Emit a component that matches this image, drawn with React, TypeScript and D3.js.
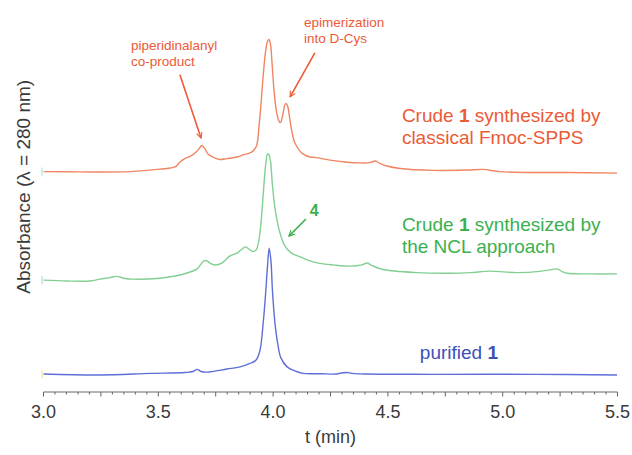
import React from "react";
import * as d3 from "d3";

// Retention time (min) and absorbance (AU, stacked traces as displayed)
const fmocTime = [3.0, 3.159, 3.377, 3.507, 3.573, 3.595, 3.621, 3.638, 3.66, 3.677, 3.69, 3.703, 3.716, 3.738, 3.769, 3.799, 3.843, 3.869, 3.891, 3.912, 3.928, 3.939, 3.947, 3.956, 3.967, 3.976, 3.982, 3.989, 3.995, 4.004, 4.015, 4.026, 4.032, 4.041, 4.05, 4.056, 4.063, 4.071, 4.082, 4.095, 4.117, 4.13, 4.161, 4.191, 4.248, 4.313, 4.378, 4.422, 4.444, 4.461, 4.496, 4.553, 4.696, 4.845, 4.914, 4.988, 5.132, 5.28, 5.498];
const fmocAbs = [0.711, 0.71, 0.711, 0.719, 0.726, 0.742, 0.755, 0.76, 0.771, 0.784, 0.795, 0.784, 0.768, 0.758, 0.75, 0.753, 0.758, 0.765, 0.769, 0.777, 0.794, 0.861, 0.926, 1.013, 1.097, 1.132, 1.137, 1.119, 1.065, 0.974, 0.903, 0.874, 0.869, 0.89, 0.923, 0.931, 0.923, 0.89, 0.839, 0.803, 0.777, 0.768, 0.758, 0.756, 0.748, 0.742, 0.739, 0.74, 0.745, 0.739, 0.729, 0.721, 0.715, 0.716, 0.718, 0.711, 0.708, 0.708, 0.706];

const nclTime = [3.0, 3.102, 3.203, 3.246, 3.29, 3.32, 3.355, 3.39, 3.507, 3.573, 3.625, 3.669, 3.695, 3.708, 3.725, 3.743, 3.777, 3.812, 3.843, 3.86, 3.88, 3.895, 3.912, 3.926, 3.936, 3.945, 3.952, 3.96, 3.969, 3.976, 3.982, 3.989, 3.997, 4.008, 4.021, 4.034, 4.047, 4.065, 4.087, 4.104, 4.13, 4.161, 4.204, 4.261, 4.335, 4.387, 4.409, 4.431, 4.479, 4.627, 4.77, 4.858, 4.945, 5.062, 5.162, 5.206, 5.236, 5.263, 5.28, 5.38, 5.498];
const nclAbs = [0.361, 0.358, 0.358, 0.364, 0.369, 0.373, 0.366, 0.364, 0.367, 0.374, 0.384, 0.397, 0.421, 0.424, 0.416, 0.41, 0.416, 0.439, 0.448, 0.458, 0.468, 0.461, 0.453, 0.458, 0.481, 0.529, 0.587, 0.668, 0.742, 0.769, 0.765, 0.742, 0.668, 0.594, 0.539, 0.503, 0.477, 0.458, 0.445, 0.44, 0.432, 0.423, 0.415, 0.41, 0.406, 0.41, 0.416, 0.408, 0.395, 0.385, 0.383, 0.385, 0.39, 0.385, 0.389, 0.394, 0.397, 0.387, 0.383, 0.381, 0.381];

const pureTime = [3.0, 3.246, 3.464, 3.616, 3.651, 3.669, 3.686, 3.712, 3.799, 3.856, 3.899, 3.926, 3.943, 3.956, 3.967, 3.976, 3.983, 3.991, 3.997, 4.008, 4.021, 4.034, 4.061, 4.095, 4.13, 4.204, 4.274, 4.304, 4.322, 4.344, 4.409, 4.696, 5.132, 5.498];
const pureAbs = [0.058, 0.055, 0.06, 0.063, 0.066, 0.073, 0.066, 0.064, 0.074, 0.081, 0.092, 0.103, 0.135, 0.216, 0.313, 0.41, 0.464, 0.419, 0.329, 0.223, 0.152, 0.11, 0.081, 0.068, 0.06, 0.059, 0.058, 0.062, 0.063, 0.06, 0.058, 0.057, 0.057, 0.055];

const xTickLabels = ["3.0", "3.5", "4.0", "4.5", "5.0", "5.5"];
const xDomain = [3.0, 5.5];
const yDomain = [0, 1.2];

const ORANGE_LINE = "#f08563";
const ORANGE_TEXT = "#ec5a36";
const GREEN_LINE = "#82cf92";
const GREEN_TEXT = "#3bb04f";
const BLUE_LINE = "#5d6fd6";
const BLUE_TEXT = "#3d50b8";
const FONT = "Liberation Sans, Arial, Helvetica, sans-serif";

type Pt = { t: number; a: number };
const zip = (ts: number[], as: number[]): Pt[] => ts.map((t, i) => ({ t, a: as[i] }));

export default function App() {
  const W = 632, H = 455;
  const x = d3.scaleLinear().domain(xDomain).range([43.5, 617.5]);
  const y = d3.scaleLinear().domain(yDomain).range([392, 20]);
  const line = d3
    .line<Pt>()
    .x((d) => x(d.t))
    .y((d) => y(d.a))
    .curve(d3.curveCatmullRom.alpha(0.5));

  const series = [
    { data: zip(fmocTime, fmocAbs), color: ORANGE_LINE, mark: "#9fd9d9" },
    { data: zip(nclTime, nclAbs), color: GREEN_LINE, mark: "#9fd9c0" },
    { data: zip(pureTime, pureAbs), color: BLUE_LINE, mark: "#e6e27a" },
  ];

  const minor = d3.range(0, 51).map((i) => 3 + i * 0.05);
  const axisY = y(0);

  const arrows = [
    { from: [3.594, 1.023], to: [3.686, 0.819], color: ORANGE_TEXT },
    { from: [4.182, 1.094], to: [4.074, 0.952], color: ORANGE_TEXT },
    { from: [4.143, 0.558], to: [4.069, 0.503], color: GREEN_TEXT },
  ];

  return (
    <svg width={W} height={H} style={{ position: "absolute", left: 0, top: 0, background: "#fff" }} fontFamily={FONT}>
      <defs>
        {arrows.map((a, i) => (
          <marker key={i} id={`arr${i}`} viewBox="0 0 10 10" refX="9" refY="5" markerWidth="7" markerHeight="7" orient="auto" markerUnits="userSpaceOnUse">
            <path d="M1,1 L9,5 L1,9" fill="none" stroke={a.color} strokeWidth={1.6} />
          </marker>
        ))}
      </defs>

      {/* traces */}
      {series.map((s, i) => (
        <g key={i}>
          <path d={line(s.data) || ""} fill="none" stroke={s.color} strokeWidth={1.4} strokeLinejoin="round" />
          <line x1={x(xDomain[0]) - 1.5} x2={x(xDomain[0]) - 1.5} y1={y(s.data[0].a) - 4} y2={y(s.data[0].a) + 4} stroke={s.mark} strokeWidth={1} />
        </g>
      ))}

      {/* x axis */}
      <line x1={x(3)} x2={x(5.5)} y1={axisY} y2={axisY} stroke="#666" strokeWidth={1} />
      {minor.map((v, i) => (
        <line key={i} x1={x(v)} x2={x(v)} y1={axisY} y2={axisY + (i % 5 === 0 ? 4.5 : 2.5)} stroke="#666" strokeWidth={1} />
      ))}
      {xTickLabels.map((lab) => (
        <text key={lab} x={x(+lab)} y={418} textAnchor="middle" fontSize={18} fill="#3a3a3a">
          {lab}
        </text>
      ))}
      <text x={x(4.25)} y={443} textAnchor="middle" fontSize={18} fill="#3a3a3a">
        t (min)
      </text>
      <text transform={`translate(30, ${y(0.662)}) rotate(-90)`} textAnchor="middle" fontSize={19} fill="#3a3a3a">
        Absorbance (λ = 280 nm)
      </text>

      {/* arrows */}
      {arrows.map((a, i) => (
        <line key={i} x1={x(a.from[0])} y1={y(a.from[1])} x2={x(a.to[0])} y2={y(a.to[1])} stroke={a.color} strokeWidth={1.6} markerEnd={`url(#arr${i})`} />
      ))}

      {/* annotations */}
      <text x={x(3.381)} y={y(1.103)} fontSize={13.5} fill={ORANGE_TEXT}>
        <tspan x={x(3.381)}>piperidinalanyl</tspan>
        <tspan x={x(3.381)} dy={15.5}>co-product</tspan>
      </text>
      <text x={x(4.135)} y={y(1.177)} fontSize={13.5} fill={ORANGE_TEXT}>
        <tspan x={x(4.135)}>epimerization</tspan>
        <tspan x={x(4.135)} dy={15.5}>into D-Cys</tspan>
      </text>
      <text x={x(4.16)} y={y(0.568)} fontSize={16} fontWeight="bold" fill={GREEN_TEXT}>
        4
      </text>

      <text x={x(4.561)} y={y(0.871)} fontSize={19} fill={ORANGE_TEXT}>
        <tspan x={x(4.561)}>
          Crude <tspan fontWeight="bold">1</tspan> synthesized by
        </tspan>
        <tspan x={x(4.561)} dy={22}>classical Fmoc-SPPS</tspan>
      </text>
      <text x={x(4.561)} y={y(0.519)} fontSize={19} fill={GREEN_TEXT}>
        <tspan x={x(4.561)}>
          Crude <tspan fontWeight="bold">1</tspan> synthesized by
        </tspan>
        <tspan x={x(4.561)} dy={22}>the NCL approach</tspan>
      </text>
      <text x={x(4.639)} y={y(0.106)} fontSize={19} fill={BLUE_TEXT}>
        purified <tspan fontWeight="bold">1</tspan>
      </text>
    </svg>
  );
}
